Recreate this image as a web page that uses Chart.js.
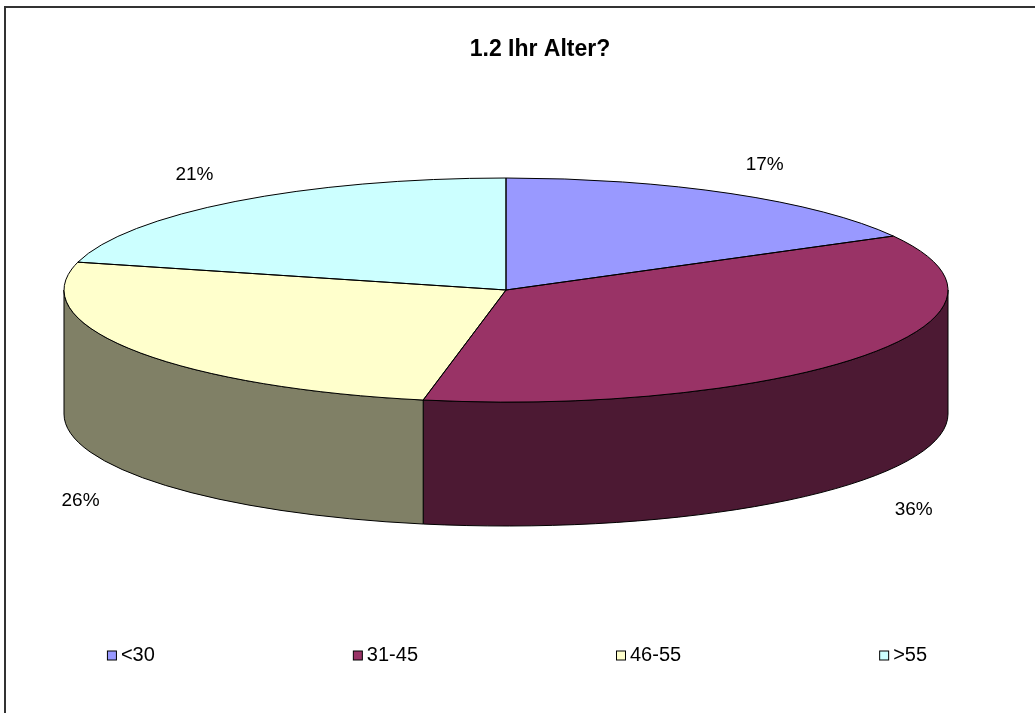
<!doctype html>
<html lang="de">
<head>
  <meta charset="utf-8">
  <title>1.2 Ihr Alter?</title>
  <style>
    html, body { margin: 0; padding: 0; background: #fff; }
    #chart { display: block; }
  </style>
</head>
<body>
  <canvas id="chart" width="1035" height="713"></canvas>

  <script src="https://cdn.jsdelivr.net/npm/chart.js@4/dist/chart.umd.min.js"></script>
  <script>
  const labels = ['<30', '31-45', '46-55', '>55'];
  const values = [17, 36, 26, 21];
  const topColors = ['#9999FF', '#993366', '#FFFFCC', '#CCFFFF'];
  const sideColors = ['#4D4D80', '#4C1933', '#808066', '#668080'];

  // where the flattened pie lands on the canvas
  const view = { cx: 506, cy: 290, rx: 442, ry: 112, depth: 124 };
  const font = '"Liberation Sans", Arial, sans-serif';

  const pie3d = {
    id: 'pie3d',
    beforeDatasetsDraw(chart) {
      const ctx = chart.ctx;
      const arcs = chart.getDatasetMeta(0).data;
      // side walls, only the front half can be seen
      ctx.save();
      ctx.strokeStyle = '#000';
      ctx.lineWidth = 1;
      arcs.forEach((arc, i) => {
        const a0 = Math.max(arc.startAngle, 0);
        const a1 = Math.min(arc.endAngle, Math.PI);
        if (a1 <= a0) return;
        ctx.beginPath();
        ctx.ellipse(view.cx, view.cy, view.rx, view.ry, 0, a0, a1);
        ctx.ellipse(view.cx, view.cy + view.depth, view.rx, view.ry, 0, a1, a0, true);
        ctx.closePath();
        ctx.fillStyle = sideColors[i];
        ctx.fill();
        ctx.stroke();
      });
      ctx.restore();
      // squash the pie Chart.js draws next
      const a = arcs[0];
      ctx.save();
      ctx.translate(view.cx, view.cy);
      ctx.scale(view.rx / a.outerRadius, view.ry / a.outerRadius);
      ctx.translate(-a.x, -a.y);
    },
    afterDatasetsDraw(chart) {
      const ctx = chart.ctx;
      ctx.restore();
      const arcs = chart.getDatasetMeta(0).data;
      const total = values.reduce((s, v) => s + v, 0);
      ctx.save();
      ctx.strokeStyle = '#000';
      ctx.lineWidth = 1;
      arcs.forEach(arc => {
        ctx.beginPath();
        ctx.moveTo(view.cx, view.cy);
        ctx.ellipse(view.cx, view.cy, view.rx, view.ry, 0, arc.startAngle, arc.endAngle);
        ctx.closePath();
        ctx.stroke();
      });
      ctx.fillStyle = '#000';
      ctx.font = '19px ' + font;
      ctx.textAlign = 'center';
      ctx.textBaseline = 'middle';
      arcs.forEach((arc, i) => {
        const mid = (arc.startAngle + arc.endAngle) / 2;
        const front = Math.sin(mid) > 0;
        const x = view.cx + view.rx * (front ? 1.14 : 1.15) * Math.cos(mid);
        const y = view.cy + view.ry * (front ? 1.45 : 1.3) * Math.sin(mid) + (front ? view.depth : 0);
        ctx.fillText(Math.round(values[i] / total * 100) + '%', x, y);
      });
      ctx.restore();
    },
    afterDraw(chart) {
      const ctx = chart.ctx;
      ctx.save();
      // frame, only top and left edge are in the picture
      ctx.fillStyle = '#333';
      ctx.fillRect(4, 6, 1031, 2);
      ctx.fillRect(4, 6, 2, 707);
      // legend, equal gaps between entries
      ctx.font = '20px ' + font;
      ctx.textBaseline = 'middle';
      const box = 9, gap = 198, y = 655;
      const widths = labels.map(l => box + 5 + ctx.measureText(l).width);
      let x = 517 - (widths.reduce((s, w) => s + w, 0) + gap * (labels.length - 1)) / 2;
      labels.forEach((l, i) => {
        ctx.fillStyle = topColors[i];
        ctx.fillRect(x + 0.5, y - box / 2 + 0.5, box, box);
        ctx.strokeStyle = '#000';
        ctx.lineWidth = 1;
        ctx.strokeRect(x + 0.5, y - box / 2 + 0.5, box, box);
        ctx.fillStyle = '#000';
        ctx.fillText(l, x + box + 5, y);
        x += widths[i] + gap;
      });
      ctx.restore();
    }
  };

  new Chart(document.getElementById('chart'), {
    type: 'pie',
    data: {
      labels: labels,
      datasets: [{
        data: values,
        backgroundColor: topColors,
        borderWidth: 0
      }]
    },
    options: {
      responsive: false,
      animation: false,
      events: [],
      layout: { padding: { left: 45, right: 0, top: 0, bottom: 120 } },
      plugins: {
        legend: { display: false },
        tooltip: { enabled: false },
        title: {
          display: true,
          text: '1.2 Ihr Alter?',
          color: '#000',
          font: { family: font, size: 23, weight: 'bold' },
          padding: { top: 36, bottom: 10 }
        }
      }
    },
    plugins: [pie3d]
  });
  </script>
</body>
</html>
